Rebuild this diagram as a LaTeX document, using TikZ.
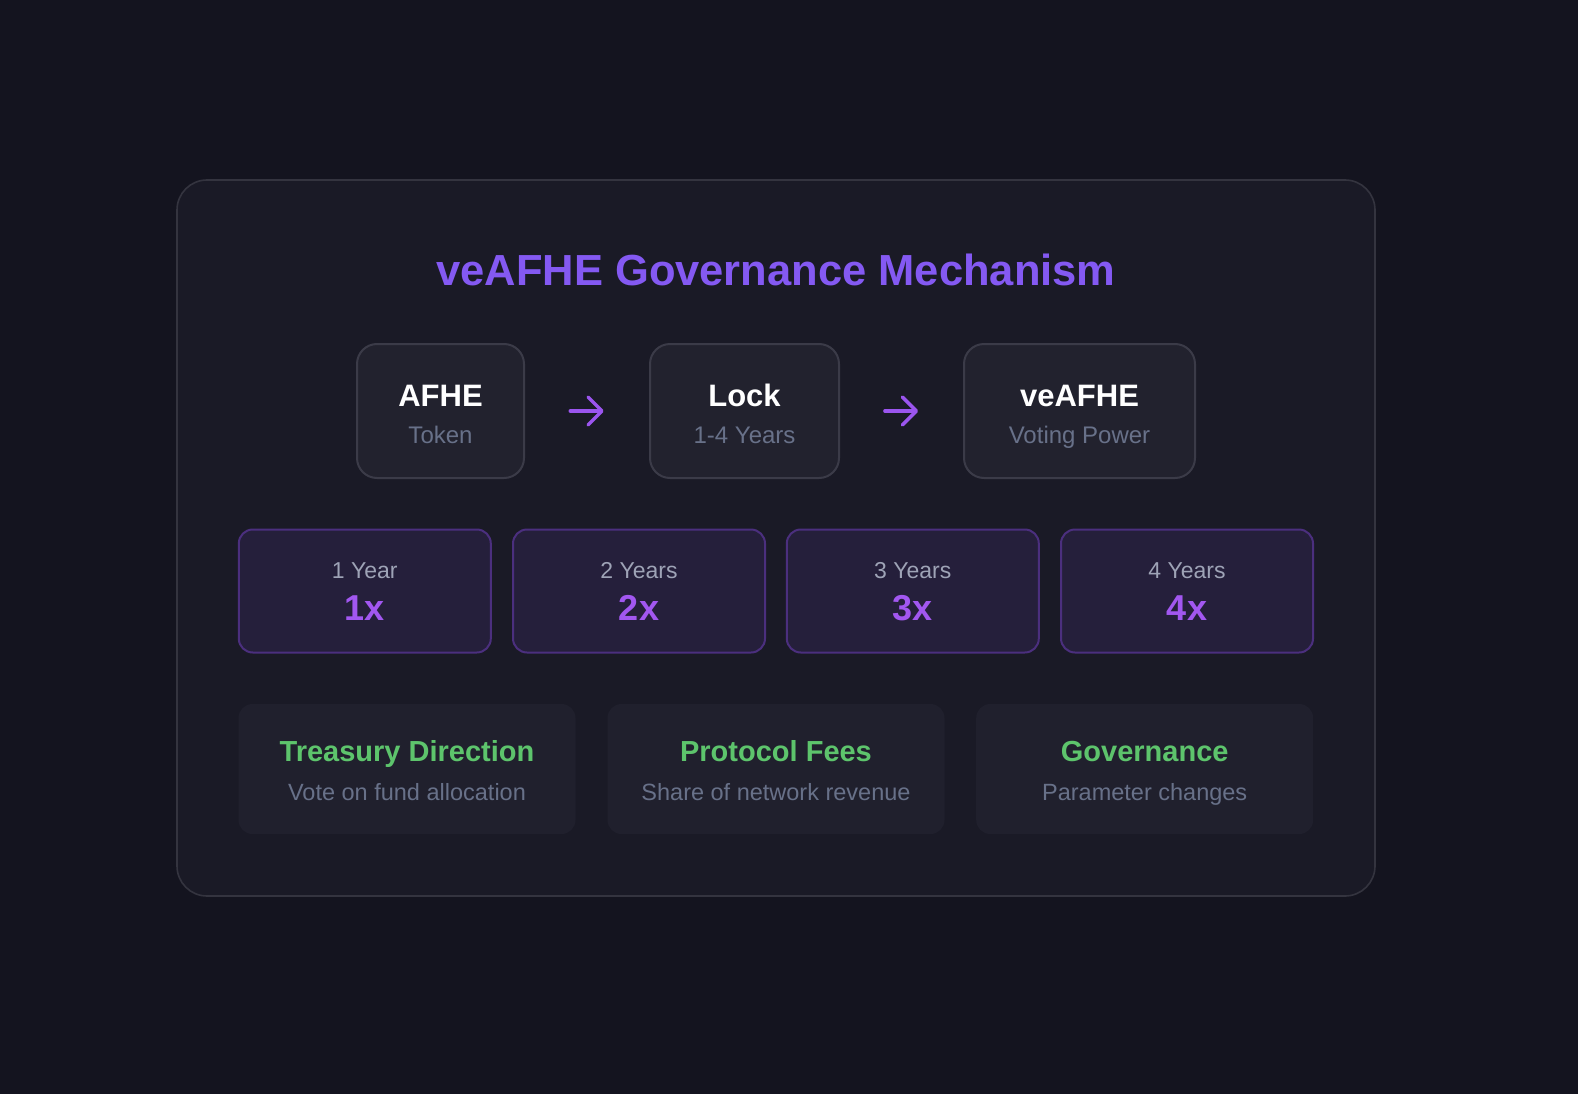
\documentclass[tikz,border=0pt]{standalone}
\usepackage{fontspec}
\setmainfont{Liberation Sans}
\usetikzlibrary{arrows.meta,calc}
\definecolor{bgc}{HTML}{14141F}
\definecolor{panelfill}{HTML}{1A1A26}
\definecolor{panelline}{HTML}{34343F}
\definecolor{topfill}{HTML}{22222E}
\definecolor{topline}{HTML}{3B3B48}
\definecolor{multfill}{HTML}{251F3B}
\definecolor{multline}{HTML}{4B2F7E}
\definecolor{featfill}{HTML}{20202D}
\definecolor{titlec}{HTML}{8459F2}
\definecolor{multc}{HTML}{A257F0}
\definecolor{yearc}{HTML}{9EA3B6}
\definecolor{subc}{HTML}{687189}
\definecolor{greenc}{HTML}{5DC46C}
\definecolor{arrowc}{HTML}{9B55EE}
\tikzset{
  panel/.style={draw=panelline, line width=1.6pt, fill=panelfill, rounded corners=30pt, minimum width=1198pt, minimum height=716pt, inner sep=0pt},
  topbox/.style={draw=topline, line width=2pt, fill=topfill, rounded corners=20pt, minimum height=134pt, inner sep=0pt},
  multbox/.style={draw=multline, line width=2pt, fill=multfill, rounded corners=14pt, minimum width=252pt, minimum height=123pt, inner sep=0pt},
  featbox/.style={fill=featfill, rounded corners=14pt, minimum width=337pt, minimum height=130pt, inner sep=0pt},
  txt/.style={anchor=base, inner sep=0pt},
  titletxt/.style={txt, text=titlec, font=\fontsize{43.5}{45}\selectfont\bfseries},
  boxtitle/.style={txt, text=white, font=\fontsize{31}{33}\selectfont\bfseries},
  boxsub/.style={txt, text=subc, font=\fontsize{24}{26}\selectfont},
  yeartxt/.style={txt, text=yearc, font=\fontsize{23}{25}\selectfont},
  multtxt/.style={txt, text=multc, font=\fontsize{36}{38}\selectfont\bfseries},
  feattitle/.style={txt, text=greenc, font=\fontsize{29}{31}\selectfont\bfseries},
  featsub/.style={txt, text=subc, font=\fontsize{23.5}{25}\selectfont},
  flow/.style={draw=arrowc, line width=3.5pt, line cap=round, -{Straight Barb[length=14pt,width=28pt,round]}},
}
\begin{document}
\begin{tikzpicture}[x=1pt,y=-1pt]
\fill[bgc] (0,0) rectangle (1578,1094);
\useasboundingbox (0,0) rectangle (1578,1094);
\node[panel] (panel) at (776,538) {};
\node[titletxt] (title) at (776,285) {veAFHE Governance Mechanism};
% top flow
\node[topbox, minimum width=167pt] (afhe) at (440.5,411) {};
\node[topbox, minimum width=189pt] (lock) at (744.5,411) {};
\node[topbox, minimum width=231pt] (ve) at (1079.5,411) {};
\node[boxtitle] (afhe-t) at (440.5,406) {AFHE};
\node[boxsub] (afhe-s) at (440.5,443) {Token};
\node[boxtitle] (lock-t) at (744.5,406) {Lock};
\node[boxsub] (lock-s) at (744.5,443) {1-4 Years};
\node[boxtitle] (ve-t) at (1079.5,406) {veAFHE};
\node[boxsub] (ve-s) at (1079.5,443) {Voting Power};
\draw[flow] ($(afhe.east)!0.365!(lock.west)$) -- ($(afhe.east)!0.635!(lock.west)$);
\draw[flow] ($(lock.east)!0.365!(ve.west)$) -- ($(lock.east)!0.635!(ve.west)$);
% multipliers
\node[multbox] (m1) at (364.8,591) {};
\node[multbox] (m2) at (639,591) {};
\node[multbox] (m3) at (912.8,591) {};
\node[multbox] (m4) at (1187,591) {};
\node[yeartxt] (m1-y) at (364.8,578) {1 Year};
\node[multtxt] (m1-x) at (364.8,620) {1x};
\node[yeartxt] (m2-y) at (639,578) {2 Years};
\node[multtxt] (m2-x) at (639,620) {2x};
\node[yeartxt] (m3-y) at (912.8,578) {3 Years};
\node[multtxt] (m3-x) at (912.8,620) {3x};
\node[yeartxt] (m4-y) at (1187,578) {4 Years};
\node[multtxt] (m4-x) at (1187,620) {4x};
% features
\node[featbox] (f1) at (407,769) {};
\node[featbox] (f2) at (776,769) {};
\node[featbox] (f3) at (1144.7,769) {};
\node[feattitle] (f1-t) at (407,761.5) {Treasury Direction};
\node[featsub] (f1-s) at (407,800) {Vote on fund allocation};
\node[feattitle] (f2-t) at (776,761.5) {Protocol Fees};
\node[featsub] (f2-s) at (776,800) {Share of network revenue};
\node[feattitle] (f3-t) at (1144.7,761.5) {Governance};
\node[featsub] (f3-s) at (1144.7,800) {Parameter changes};
\end{tikzpicture}
\end{document}
